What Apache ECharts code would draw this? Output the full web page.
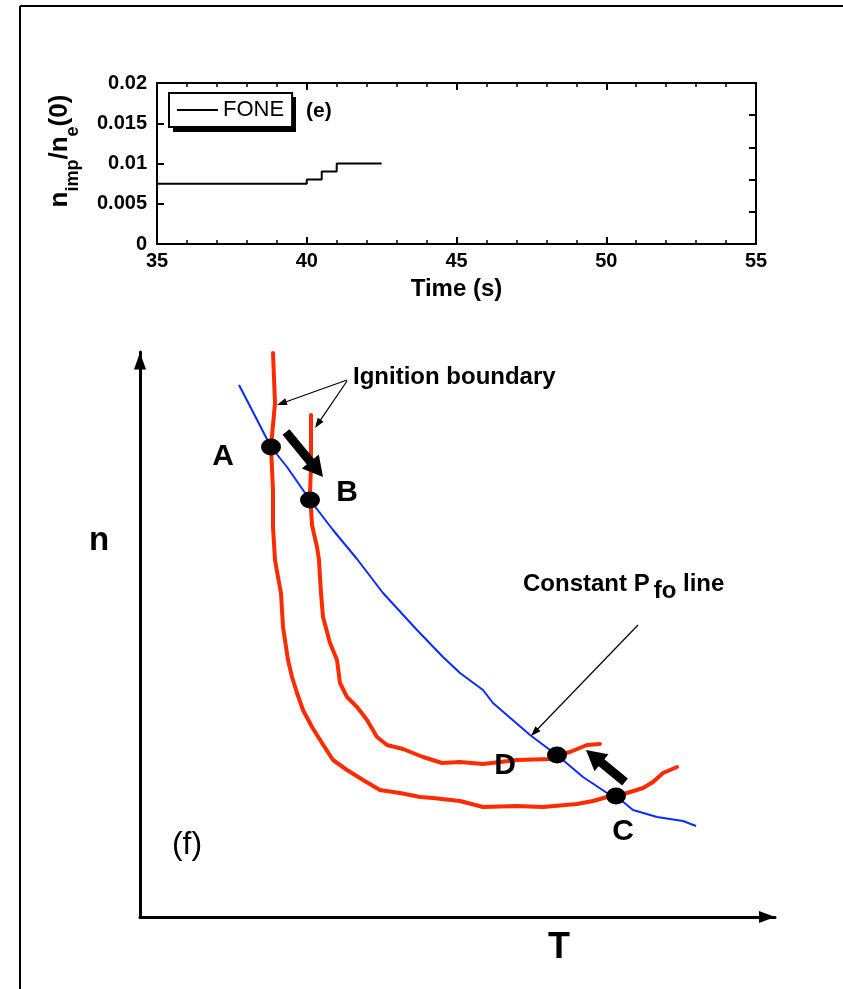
<!DOCTYPE html>
<html><head><meta charset="utf-8">
<script src="https://cdn.jsdelivr.net/npm/echarts@6/dist/echarts.min.js"></script>
<style>html,body{margin:0;padding:0;background:#fff}#c{width:843px;height:989px}</style>
</head><body><div id="c"></div>
<script>
// ---------- panel (e) data ----------
const timeS = [35, 40, 40.5, 41, 42.5];
const foneValues = [0.0075, 0.008, 0.009, 0.01, 0.01];
const timeTicks = [35, 40, 45, 50, 55];
const ratioTicks = [0, 0.005, 0.01, 0.015, 0.02];
const ratioTickLabels = ['0', '0.005', '0.01', '0.015', '0.02'];

// ---------- panel (f) schematic data (arbitrary T / n units) ----------
const ign1T = [133,135,131,133,133,135,138,141,143,148,152,157,163,172,182,193,207,223,240,260,280,293,320,343,377,403,437,453,467,476,487,503,513,523,537];
const ign1N = [564,514,470,427,390,357,340,324,290,257,240,224,207,190,174,157,147,137,127,124,120,119,116,110,111,110,113,116,120,121,124,129,135,144,150];
const ign2T = [171,171,171,170,172,177,179,180,181,183,190,197,200,207,217,227,237,247,263,283,302,320,343,377,410,417,430,447,460];
const ign2N = [502,477,450,424,392,370,357,340,324,300,274,257,234,220,210,197,180,172,168,160,154,155,153,157,158,162,165,172,173];
const pfoT = [99,113,131,147,170,193,217,243,277,303,320,343,353,390,410,417,443,467,476,493,517,543,556];
const pfoN = [532,505,470,450,417,387,358,324,287,260,244,227,214,182,167,162,140,124,121,107,100,96,91];
const dotT = [131,170,417,476];
const dotN = [470,417,162,121];
const dotLabels = ['A','B','D','C'];
const thickArrows = [[146,485,183,440],[485,135,446,167]];
const thinArrows = [[207,537,137,512],[207,536,175,489],[498,292,391,181]];

// ---------- styles ----------
const FONT = '"Liberation Sans", Arial, Helvetica, sans-serif';
const RED = '#ff2b00', BLUE = '#0b2bff';
const labelOffsets = [[-48,10],[37,-7],[-52,11],[7,36]];
const ELLIPSE = 'path://M0 50 A50 50 0 1 0 100 50 A50 50 0 1 0 0 50 Z';

const pts = (xs, ys) => xs.map((x, i) => [x, ys[i]]);

function arrowRender(shaftW, headL, headW) {
  return function (params, api) {
    const p1 = api.coord([api.value(0), api.value(1)]);
    const p2 = api.coord([api.value(2), api.value(3)]);
    const dx = p2[0] - p1[0], dy = p2[1] - p1[1];
    const L = Math.hypot(dx, dy);
    const ux = dx / L, uy = dy / L, nx = -uy, ny = ux;
    const bx = p2[0] - ux * headL, by = p2[1] - uy * headL;
    return {
      type: 'group',
      children: [
        {type: 'line', shape: {x1: p1[0], y1: p1[1], x2: bx + ux, y2: by + uy},
         style: {stroke: '#000', lineWidth: shaftW}},
        {type: 'polygon', shape: {points: [[p2[0], p2[1]],
           [bx + nx * headW / 2, by + ny * headW / 2],
           [bx - nx * headW / 2, by - ny * headW / 2]]},
         style: {fill: '#000'}}
      ]
    };
  };
}

const boldTick = {fontSize: 20, fontWeight: 'bold', fontFamily: FONT, color: '#000'};
const axisBlack = {color: '#000', width: 2};

const chart = echarts.init(document.getElementById('c'), null, {renderer: 'canvas', width: 843, height: 989});
chart.setOption({
  animation: false,
  backgroundColor: '#fff',
  grid: [
    {left: 157, top: 83, width: 599, height: 161},
    {left: 140, top: 352, width: 635, height: 565}
  ],
  legend: {
    data: [{name: 'FONE', icon: 'rect'}], left: 169, top: 93, orient: 'horizontal', z: 10,
    padding: [6, 8, 6, 8], itemWidth: 41, itemHeight: 2,
    itemStyle: {color: '#000', borderWidth: 0},
    backgroundColor: '#fff', borderColor: '#000', borderWidth: 2,
    textStyle: {fontSize: 22, fontFamily: FONT, color: '#000'},
    selectedMode: false
  },
  xAxis: [
    {gridIndex: 0, type: 'value', min: timeTicks[0], max: timeTicks[timeTicks.length - 1],
     interval: timeTicks[1] - timeTicks[0], position: 'bottom',
     axisLine: {show: true, onZero: false, lineStyle: axisBlack},
     axisTick: {show: true, inside: true, length: 7, lineStyle: axisBlack},
     minorTick: {show: true, splitNumber: 5, length: 4, lineStyle: {color: '#000', width: 1.5}},
     axisLabel: Object.assign({show: true, margin: 7}, boldTick),
     splitLine: {show: false},
     name: 'Time (s)', nameLocation: 'middle', nameGap: 33,
     nameTextStyle: {fontSize: 24, fontWeight: 'bold', fontFamily: FONT, color: '#000'}},
    {gridIndex: 0, type: 'value', min: timeTicks[0], max: timeTicks[timeTicks.length - 1],
     interval: timeTicks[1] - timeTicks[0], position: 'top',
     axisLine: {show: true, onZero: false, lineStyle: axisBlack},
     axisTick: {show: true, inside: true, length: 7, lineStyle: axisBlack},
     minorTick: {show: true, splitNumber: 5, length: 4, lineStyle: {color: '#000', width: 1.5}},
     axisLabel: {show: false}, splitLine: {show: false}},
    {gridIndex: 1, type: 'value', min: 0, max: 635,
     axisLine: {show: true, onZero: false, symbol: ['none', 'triangle'], symbolSize: [12, 16], symbolOffset: [0, -8],
                lineStyle: {color: '#000', width: 3}},
     axisTick: {show: false}, axisLabel: {show: false}, splitLine: {show: false}}
  ],
  yAxis: [
    {gridIndex: 0, type: 'value', min: ratioTicks[0], max: ratioTicks[ratioTicks.length - 1],
     interval: ratioTicks[1] - ratioTicks[0], position: 'left',
     axisLine: {show: true, onZero: false, lineStyle: axisBlack},
     axisTick: {show: true, inside: true, length: 7, lineStyle: axisBlack},
     axisLabel: Object.assign({show: true, margin: 10, formatter: (v, i) => ratioTickLabels[i]}, boldTick),
     splitLine: {show: false}},
    {gridIndex: 0, type: 'value', min: 0, max: 0.02, interval: 0.004, position: 'right',
     axisLine: {show: true, onZero: false, lineStyle: axisBlack},
     axisTick: {show: true, inside: true, length: 7, lineStyle: axisBlack},
     axisLabel: {show: false}, splitLine: {show: false}},
    {gridIndex: 1, type: 'value', min: 0, max: 565,
     axisLine: {show: true, onZero: false, symbol: ['none', 'triangle'], symbolSize: [12, 17], symbolOffset: [0, -9],
                lineStyle: {color: '#000', width: 3}},
     axisTick: {show: false}, axisLabel: {show: false}, splitLine: {show: false}}
  ],
  series: [
    {name: 'FONE', type: 'line', xAxisIndex: 0, yAxisIndex: 0, step: 'end',
     data: pts(timeS, foneValues), symbol: 'none', showSymbol: false,
     lineStyle: {color: '#000', width: 2}, itemStyle: {color: '#000'}},
    {name: 'Ignition boundary 1', type: 'line', xAxisIndex: 2, yAxisIndex: 2,
     data: pts(ign1T, ign1N), symbol: 'none', silent: true,
     lineStyle: {color: RED, width: 4, cap: 'round', join: 'round'}, itemStyle: {color: RED}},
    {name: 'Ignition boundary 2', type: 'line', xAxisIndex: 2, yAxisIndex: 2,
     data: pts(ign2T, ign2N), symbol: 'none', silent: true,
     lineStyle: {color: RED, width: 4, cap: 'round', join: 'round'}, itemStyle: {color: RED}},
    {name: 'Constant Pfo line', type: 'line', xAxisIndex: 2, yAxisIndex: 2,
     data: pts(pfoT, pfoN), symbol: 'none', silent: true, z: 3,
     lineStyle: {color: BLUE, width: 2}, itemStyle: {color: BLUE}},
    {name: 'points', type: 'scatter', xAxisIndex: 2, yAxisIndex: 2, z: 5,
     symbol: ELLIPSE, symbolSize: [20, 17], itemStyle: {color: '#000', opacity: 1},
     label: {show: true, position: 'inside', formatter: '{b}', fontSize: 30, fontWeight: 'bold',
             fontFamily: FONT, color: '#000', opacity: 1},
     data: dotT.map((t, i) => ({name: dotLabels[i], value: [t, dotN[i]], label: {offset: labelOffsets[i]}}))},
    {name: 'thick arrows', type: 'custom', xAxisIndex: 2, yAxisIndex: 2, z: 6,
     renderItem: arrowRender(9, 20, 22), data: thickArrows},
    {name: 'thin arrows', type: 'custom', xAxisIndex: 2, yAxisIndex: 2, z: 6,
     renderItem: arrowRender(1.2, 10, 7), data: thinArrows}
  ],
  graphic: {elements: [
    {type: 'line', shape: {x1: 20, y1: 6, x2: 843, y2: 6}, style: {stroke: '#000', lineWidth: 2}},
    {type: 'line', shape: {x1: 20, y1: 6, x2: 20, y2: 989}, style: {stroke: '#000', lineWidth: 2}},
    {type: 'rect', z: 1, shape: {x: 173, y: 97, width: 123, height: 35}, style: {fill: '#000'}},
    {type: 'text', x: 60, y: 151, rotation: Math.PI / 2,
     style: {text: '{m|n}{s|imp}{m|/n}{s|e}{m|(0)}', align: 'center', verticalAlign: 'middle',
             textAlign: 'center', textVerticalAlign: 'middle', fill: '#000',
             rich: {m: {fontSize: 26, fontWeight: 'bold', fontFamily: FONT, fill: '#000', color: '#000'},
                    s: {fontSize: 18, fontWeight: 'bold', fontFamily: FONT, fill: '#000', color: '#000', padding: [26, 0, 0, 0]}}}},
    {type: 'text', x: 306, y: 111,
     style: {text: '(e)', font: 'bold 21px ' + FONT, fill: '#000', align: 'left', verticalAlign: 'middle',
             textAlign: 'left', textVerticalAlign: 'middle'}},
    {type: 'text', x: 353, y: 377,
     style: {text: 'Ignition boundary', font: 'bold 24px ' + FONT, fill: '#000', align: 'left', verticalAlign: 'middle',
             textAlign: 'left', textVerticalAlign: 'middle'}},
    {type: 'text', x: 523, y: 584,
     style: {text: '{a|Constant P}{b|fo}{a| line}', align: 'left', verticalAlign: 'middle',
             textAlign: 'left', textVerticalAlign: 'middle', fill: '#000',
             rich: {a: {fontSize: 24, fontWeight: 'bold', fontFamily: FONT, fill: '#000', color: '#000'},
                    b: {fontSize: 24, fontWeight: 'bold', fontFamily: FONT, fill: '#000', color: '#000', padding: [14, 0, 0, 4]}}}},
    {type: 'text', x: 99, y: 541,
     style: {text: 'n', font: 'bold 33px ' + FONT, fill: '#000', align: 'center', verticalAlign: 'middle',
             textAlign: 'center', textVerticalAlign: 'middle'}},
    {type: 'text', x: 559, y: 948,
     style: {text: 'T', font: 'bold 36px ' + FONT, fill: '#000', align: 'center', verticalAlign: 'middle',
             textAlign: 'center', textVerticalAlign: 'middle'}},
    {type: 'text', x: 187, y: 845,
     style: {text: '(f)', font: '32px ' + FONT, fill: '#000', align: 'center', verticalAlign: 'middle',
             textAlign: 'center', textVerticalAlign: 'middle'}}
  ]}
});
</script>
</body></html>
